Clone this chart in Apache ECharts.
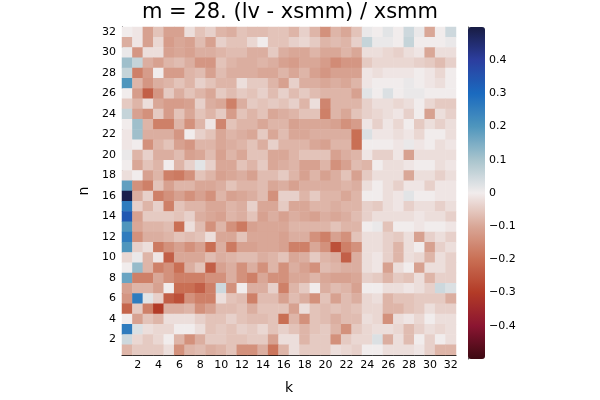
<!DOCTYPE html>
<html>
<head>
<meta charset="utf-8">
<script src="https://cdn.jsdelivr.net/npm/echarts@6/dist/echarts.min.js"></script>
<style>
  html, body { margin: 0; background: #fff; }
  #chart { width: 600px; height: 400px; }
</style>
</head>
<body>
<div id="chart"></div>
<script>
// k along x, n along y
const kValues = [1,2,3,4,5,6,7,8,9,10,11,12,13,14,15,16,17,18,19,20,21,22,23,24,25,26,27,28,29,30,31,32]
const nValues = [1,2,3,4,5,6,7,8,9,10,11,12,13,14,15,16,17,18,19,20,21,22,23,24,25,26,27,28,29,30,31,32]
const xTicks = [2,4,6,8,10,12,14,16,18,20,22,24,26,28,30,32]
const yTicks = [2,4,6,8,10,12,14,16,18,20,22,24,26,28,30,32]
const cbarTicks = [-0.4,-0.3,-0.2,-0.1,0,0.1,0.2,0.3,0.4]

// (lv - xsmm) / xsmm, one row per n, top row is n = 32, columns k = 1..32
const zRows = [
  [0.0,-0.01,-0.11,-0.06,-0.11,-0.11,-0.02,-0.06,-0.04,-0.08,-0.09,-0.06,-0.07,-0.07,-0.06,-0.06,-0.08,-0.04,-0.08,-0.14,-0.08,-0.1,-0.06,0.01,0.0,0.02,0.0,0.05,0.01,-0.1,0.0,0.05],
  [-0.09,-0.01,-0.11,-0.03,-0.12,-0.1,-0.11,-0.07,-0.11,-0.04,-0.06,-0.06,-0.03,0.0,-0.06,-0.06,-0.04,-0.03,-0.05,-0.08,-0.07,-0.08,-0.04,0.06,0.01,0.01,0.0,0.06,0.0,0.0,0.0,0.01],
  [0.01,-0.13,-0.02,-0.02,-0.11,-0.1,-0.11,-0.09,-0.09,-0.08,-0.07,-0.07,-0.09,-0.09,-0.05,-0.09,-0.1,-0.1,-0.08,-0.1,-0.1,-0.08,-0.1,-0.02,-0.02,-0.03,-0.04,-0.02,-0.01,-0.1,-0.02,-0.02],
  [0.11,0.06,-0.09,-0.11,-0.08,-0.07,-0.09,-0.13,-0.13,-0.06,-0.08,-0.09,-0.09,-0.08,-0.09,-0.11,-0.12,-0.1,-0.1,-0.12,-0.15,-0.13,-0.13,-0.05,-0.03,-0.03,-0.03,-0.03,-0.04,-0.05,-0.07,-0.04],
  [0.06,-0.17,-0.12,0.0,-0.12,-0.12,-0.08,-0.07,-0.11,-0.07,-0.09,-0.09,-0.09,-0.1,-0.1,-0.08,-0.1,-0.08,-0.11,-0.13,-0.11,-0.11,-0.11,-0.01,-0.02,-0.01,-0.01,-0.01,0.0,-0.01,-0.03,0.0],
  [0.2,-0.08,-0.13,-0.09,-0.08,-0.06,-0.08,-0.04,-0.06,-0.08,-0.08,-0.02,-0.05,-0.05,-0.08,-0.11,-0.04,-0.09,-0.09,-0.1,-0.09,-0.1,-0.08,-0.01,0.0,0.0,0.0,0.01,0.0,-0.01,-0.02,0.0],
  [0.0,-0.12,-0.23,-0.13,-0.05,-0.09,-0.06,-0.08,-0.1,-0.05,-0.07,-0.05,-0.06,-0.04,-0.07,-0.04,-0.07,-0.05,-0.07,-0.08,-0.08,-0.08,-0.11,0.02,0.0,0.03,0.0,0.01,0.01,0.0,0.0,0.0],
  [-0.05,-0.08,-0.02,-0.1,-0.12,-0.12,-0.11,-0.04,-0.09,-0.1,-0.17,-0.09,-0.05,-0.06,-0.05,-0.06,-0.04,-0.08,-0.02,-0.16,-0.08,-0.08,-0.08,-0.04,-0.02,-0.02,-0.03,-0.02,0.0,-0.03,-0.05,-0.05],
  [0.06,-0.11,-0.14,-0.05,-0.12,-0.06,-0.1,-0.06,-0.08,-0.05,-0.12,-0.06,-0.08,-0.06,-0.1,-0.09,-0.08,-0.06,-0.06,-0.17,-0.08,-0.1,-0.06,-0.04,-0.03,-0.02,-0.01,-0.04,0.0,-0.11,-0.02,-0.04],
  [0.0,0.11,-0.08,-0.17,-0.17,-0.08,-0.14,-0.08,-0.01,-0.16,-0.06,-0.08,-0.08,-0.1,-0.08,-0.08,-0.11,-0.1,-0.1,-0.1,-0.11,-0.14,-0.12,-0.01,-0.04,-0.01,-0.03,0.0,-0.05,-0.02,-0.04,-0.02],
  [-0.01,0.11,-0.09,-0.09,-0.09,-0.13,0.0,-0.04,-0.06,-0.1,-0.08,-0.09,-0.1,-0.05,-0.1,-0.07,-0.1,-0.1,-0.09,-0.09,-0.09,-0.09,-0.2,0.03,-0.01,-0.01,-0.02,-0.01,-0.03,0.0,0.0,-0.02],
  [-0.01,0.0,-0.14,-0.08,-0.06,-0.11,-0.13,-0.08,-0.08,-0.1,-0.09,-0.08,-0.06,-0.09,-0.04,-0.08,-0.08,-0.08,-0.1,-0.11,-0.08,-0.08,-0.2,0.0,0.0,0.0,-0.01,0.01,-0.01,0.0,-0.02,-0.01],
  [0.01,-0.08,-0.04,-0.09,-0.09,-0.07,-0.11,-0.1,-0.07,-0.11,-0.08,-0.1,-0.06,-0.06,-0.1,-0.1,-0.08,-0.06,-0.06,-0.06,-0.11,-0.09,-0.08,-0.01,-0.04,-0.04,-0.01,-0.11,-0.02,-0.02,-0.02,-0.02],
  [0.0,-0.1,-0.06,-0.08,0.0,-0.08,-0.04,0.02,-0.04,-0.1,-0.1,-0.06,-0.08,-0.05,-0.1,-0.09,-0.08,-0.11,-0.11,-0.08,-0.14,-0.11,-0.07,-0.08,0.0,-0.02,-0.02,-0.01,0.0,0.0,-0.02,-0.01],
  [-0.02,0.0,-0.11,-0.08,-0.17,-0.18,-0.14,-0.06,-0.08,-0.11,-0.1,-0.09,-0.11,-0.07,-0.07,-0.05,-0.08,-0.11,-0.08,-0.11,-0.09,-0.06,-0.11,-0.05,-0.02,-0.02,-0.02,-0.1,-0.02,-0.02,-0.04,-0.02],
  [0.18,-0.14,-0.17,-0.06,-0.11,-0.08,-0.08,-0.1,-0.1,-0.09,-0.06,-0.08,-0.08,-0.07,-0.1,-0.09,-0.11,-0.09,-0.09,-0.09,-0.09,-0.08,-0.09,-0.02,0.0,-0.02,-0.04,-0.01,-0.01,-0.04,-0.01,-0.01],
  [0.49,-0.09,-0.04,-0.17,-0.14,-0.11,-0.14,-0.11,-0.14,-0.08,-0.11,-0.1,-0.09,-0.07,-0.14,-0.04,-0.04,-0.08,-0.05,-0.08,-0.08,-0.1,-0.08,0.0,0.0,-0.02,-0.01,0.02,0.0,0.0,-0.01,-0.01],
  [0.26,-0.04,-0.08,-0.04,-0.17,-0.06,-0.08,-0.08,-0.1,-0.1,-0.08,-0.09,-0.04,-0.1,-0.1,-0.05,-0.1,-0.1,-0.08,-0.08,-0.09,-0.08,-0.08,-0.04,-0.05,-0.02,-0.01,-0.04,-0.02,-0.02,-0.04,-0.02],
  [0.34,-0.11,-0.05,-0.05,-0.05,-0.06,-0.04,-0.09,-0.1,-0.11,-0.08,-0.09,-0.06,-0.11,-0.09,-0.11,-0.09,-0.1,-0.11,-0.09,-0.1,-0.09,-0.07,-0.04,-0.02,-0.02,-0.02,-0.02,-0.01,-0.02,-0.02,-0.04],
  [0.2,-0.1,-0.08,-0.08,-0.07,-0.2,-0.02,-0.07,-0.14,-0.08,-0.14,-0.18,-0.11,-0.1,-0.1,-0.1,-0.08,-0.08,-0.08,-0.08,-0.06,-0.08,-0.08,0.0,0.01,-0.06,0.0,0.0,-0.01,0.0,0.0,-0.01],
  [0.26,-0.14,-0.09,-0.09,-0.08,-0.06,-0.07,-0.06,-0.02,-0.1,-0.1,-0.06,-0.1,-0.1,-0.1,-0.11,-0.09,-0.09,-0.14,-0.17,-0.11,-0.14,-0.06,-0.02,-0.02,-0.04,-0.05,-0.02,-0.11,-0.04,-0.02,-0.04],
  [0.2,-0.04,-0.02,-0.18,-0.14,-0.11,-0.14,-0.11,-0.2,-0.09,-0.18,-0.11,-0.11,-0.1,-0.1,-0.11,-0.17,-0.17,-0.1,-0.14,-0.26,-0.17,-0.14,-0.02,-0.02,-0.04,-0.08,-0.02,0.0,-0.11,-0.04,-0.02],
  [-0.03,0.01,-0.08,-0.01,-0.23,-0.1,-0.1,-0.1,-0.07,-0.09,-0.08,-0.07,-0.07,-0.09,-0.08,-0.06,-0.1,-0.09,-0.05,-0.08,-0.09,-0.23,-0.09,-0.02,-0.01,-0.04,-0.08,-0.02,-0.03,-0.08,-0.02,-0.04],
  [0.0,0.12,-0.08,-0.17,-0.14,-0.2,-0.09,-0.06,-0.23,-0.11,-0.09,-0.14,-0.09,-0.14,-0.08,-0.14,-0.09,-0.11,-0.14,-0.07,-0.08,-0.09,-0.09,-0.02,-0.01,-0.11,-0.02,0.0,-0.11,-0.02,-0.02,-0.04],
  [0.17,-0.17,-0.17,-0.1,-0.14,-0.17,-0.17,-0.17,-0.14,-0.14,-0.09,-0.14,-0.17,-0.1,-0.14,-0.14,-0.1,-0.1,-0.08,-0.1,-0.11,-0.11,-0.1,-0.04,-0.05,-0.08,-0.05,-0.06,-0.02,-0.08,-0.04,-0.04],
  [-0.11,-0.08,-0.08,-0.11,0.0,-0.2,-0.2,-0.23,-0.17,0.05,-0.14,0.0,-0.09,-0.09,-0.04,-0.17,-0.08,-0.05,0.0,-0.09,-0.07,-0.08,-0.11,0.0,0.0,-0.02,-0.02,-0.01,-0.02,-0.04,0.05,0.03],
  [-0.13,0.26,0.02,-0.04,-0.23,-0.26,-0.14,-0.17,-0.17,-0.02,-0.06,-0.07,-0.17,-0.07,-0.07,-0.11,-0.07,-0.09,-0.14,-0.06,-0.11,-0.07,-0.09,-0.03,-0.02,-0.08,-0.06,-0.06,-0.05,-0.05,-0.05,-0.09],
  [-0.22,-0.05,-0.17,-0.3,-0.09,-0.09,-0.08,-0.14,-0.11,-0.07,-0.07,-0.06,-0.09,-0.06,-0.06,-0.06,-0.11,-0.02,-0.06,-0.07,-0.06,-0.07,-0.06,-0.03,-0.03,-0.08,-0.08,-0.06,-0.05,-0.02,-0.04,-0.04],
  [0.0,-0.11,-0.06,-0.08,-0.02,-0.02,-0.02,-0.04,-0.06,-0.06,-0.04,-0.06,-0.07,-0.07,-0.06,-0.2,-0.08,-0.14,-0.06,-0.07,-0.09,-0.07,-0.07,-0.02,-0.03,-0.14,-0.02,-0.01,-0.03,0.0,-0.02,-0.02],
  [0.26,0.03,-0.02,-0.03,-0.03,0.0,0.0,-0.02,-0.06,-0.05,-0.06,-0.04,-0.05,-0.03,-0.06,-0.04,-0.06,-0.08,-0.06,-0.05,-0.08,-0.14,-0.05,-0.03,-0.02,-0.02,-0.03,-0.07,-0.04,-0.02,-0.03,-0.02],
  [0.05,-0.03,-0.05,-0.03,0.0,-0.08,-0.14,-0.09,-0.05,-0.05,-0.06,-0.06,-0.05,-0.05,-0.11,-0.02,-0.02,-0.08,-0.05,-0.05,-0.14,-0.05,-0.03,-0.03,0.03,-0.09,-0.02,-0.07,0.0,-0.04,0.0,-0.02],
  [-0.08,-0.05,-0.05,-0.05,-0.02,-0.14,-0.08,-0.07,-0.09,-0.08,-0.06,-0.14,-0.14,-0.09,-0.19,-0.08,-0.02,-0.05,-0.05,-0.05,-0.02,-0.03,-0.04,0.0,0.0,-0.02,-0.02,-0.02,-0.01,-0.04,-0.08,-0.08]
]

// balance colormap, low (-0.5) to high (+0.5)
const balance = ['#3c0912', '#8b1531', '#b33b27', '#c96f54', '#d9a797', '#f1ecec',
  '#a8c4cd', '#4f96bd', '#1a6abf', '#2c3e9f', '#181c43']

const font = 'DejaVu Sans'

// heatmap cells [kIndex, nIndex, value]
const cells = []
zRows.forEach((row, r) => {
  const n = nValues[nValues.length - 1 - r]
  row.forEach((v, i) => {
    cells.push([i, nValues.indexOf(n), v])
  })
})

const fmtBar = v => {
  const r = Math.round(v * 10) / 10
  if (r === 0) return '0'
  return r < 0 ? '\u2212' + (-r) : String(r)
}

const chart = echarts.init(document.getElementById('chart'), null, { renderer: 'canvas' })
chart.setOption({
  animation: false,
  backgroundColor: '#fff',
  title: {
    text: 'm = 28. (lv - xsmm) / xsmm',
    left: 290,
    top: 2,
    textAlign: 'center',
    padding: 0,
    textStyle: { fontFamily: font, fontSize: 21, fontWeight: 'normal', color: '#000' }
  },
  grid: [
    { left: 122, top: 27, width: 334, height: 332 },
    { left: 468, top: 27, width: 17, height: 332 }
  ],
  xAxis: [
    {
      type: 'category',
      gridIndex: 0,
      data: kValues,
      name: 'k',
      nameLocation: 'middle',
      nameGap: 26,
      nameTextStyle: { fontFamily: font, fontSize: 14, color: '#000' },
      axisLine: { show: true, lineStyle: { color: '#000', width: 1 } },
      axisTick: {
        show: true, inside: true, length: 3, alignWithLabel: true,
        interval: (i, v) => xTicks.includes(Number(v)),
        lineStyle: { color: '#000' }
      },
      axisLabel: {
        interval: (i, v) => xTicks.includes(Number(v)),
        fontFamily: font, fontSize: 11, color: '#000', margin: 5
      },
      splitLine: { show: false }
    },
    { type: 'value', gridIndex: 1, show: false, min: 0, max: 1 }
  ],
  yAxis: [
    {
      type: 'category',
      gridIndex: 0,
      data: nValues,
      name: 'n',
      nameLocation: 'middle',
      nameGap: 29,
      nameRotate: 90,
      nameTextStyle: { fontFamily: font, fontSize: 14, color: '#000' },
      axisLine: { show: true, lineStyle: { color: '#000', width: 1 } },
      axisTick: {
        show: true, inside: true, length: 3, alignWithLabel: true,
        interval: (i, v) => yTicks.includes(Number(v)),
        lineStyle: { color: '#000' }
      },
      axisLabel: {
        interval: (i, v) => yTicks.includes(Number(v)),
        fontFamily: font, fontSize: 11, color: '#000', margin: 6
      },
      splitLine: { show: false }
    },
    {
      type: 'value',
      gridIndex: 1,
      position: 'right',
      min: -0.5,
      max: 0.5,
      axisLine: { show: true, lineStyle: { color: '#555', width: 1 } },
      axisTick: { show: true, length: 3, customValues: cbarTicks, lineStyle: { color: '#555' } },
      axisLabel: {
        customValues: cbarTicks,
        formatter: fmtBar,
        fontFamily: font, fontSize: 11, color: '#000', margin: 4
      },
      splitLine: { show: false }
    }
  ],
  visualMap: {
    type: 'continuous',
    seriesIndex: 0,
    min: -0.5,
    max: 0.5,
    orient: 'vertical',
    left: 468,
    top: 27,
    padding: 0,
    itemWidth: 17,
    itemHeight: 332,
    calculable: false,
    hoverLink: false,
    text: null,
    inRange: { color: balance }
  },
  series: [{
    type: 'heatmap',
    xAxisIndex: 0,
    yAxisIndex: 0,
    data: cells,
    itemStyle: { borderWidth: 0 },
    emphasis: { disabled: true }
  }]
})
</script>
</body>
</html>
